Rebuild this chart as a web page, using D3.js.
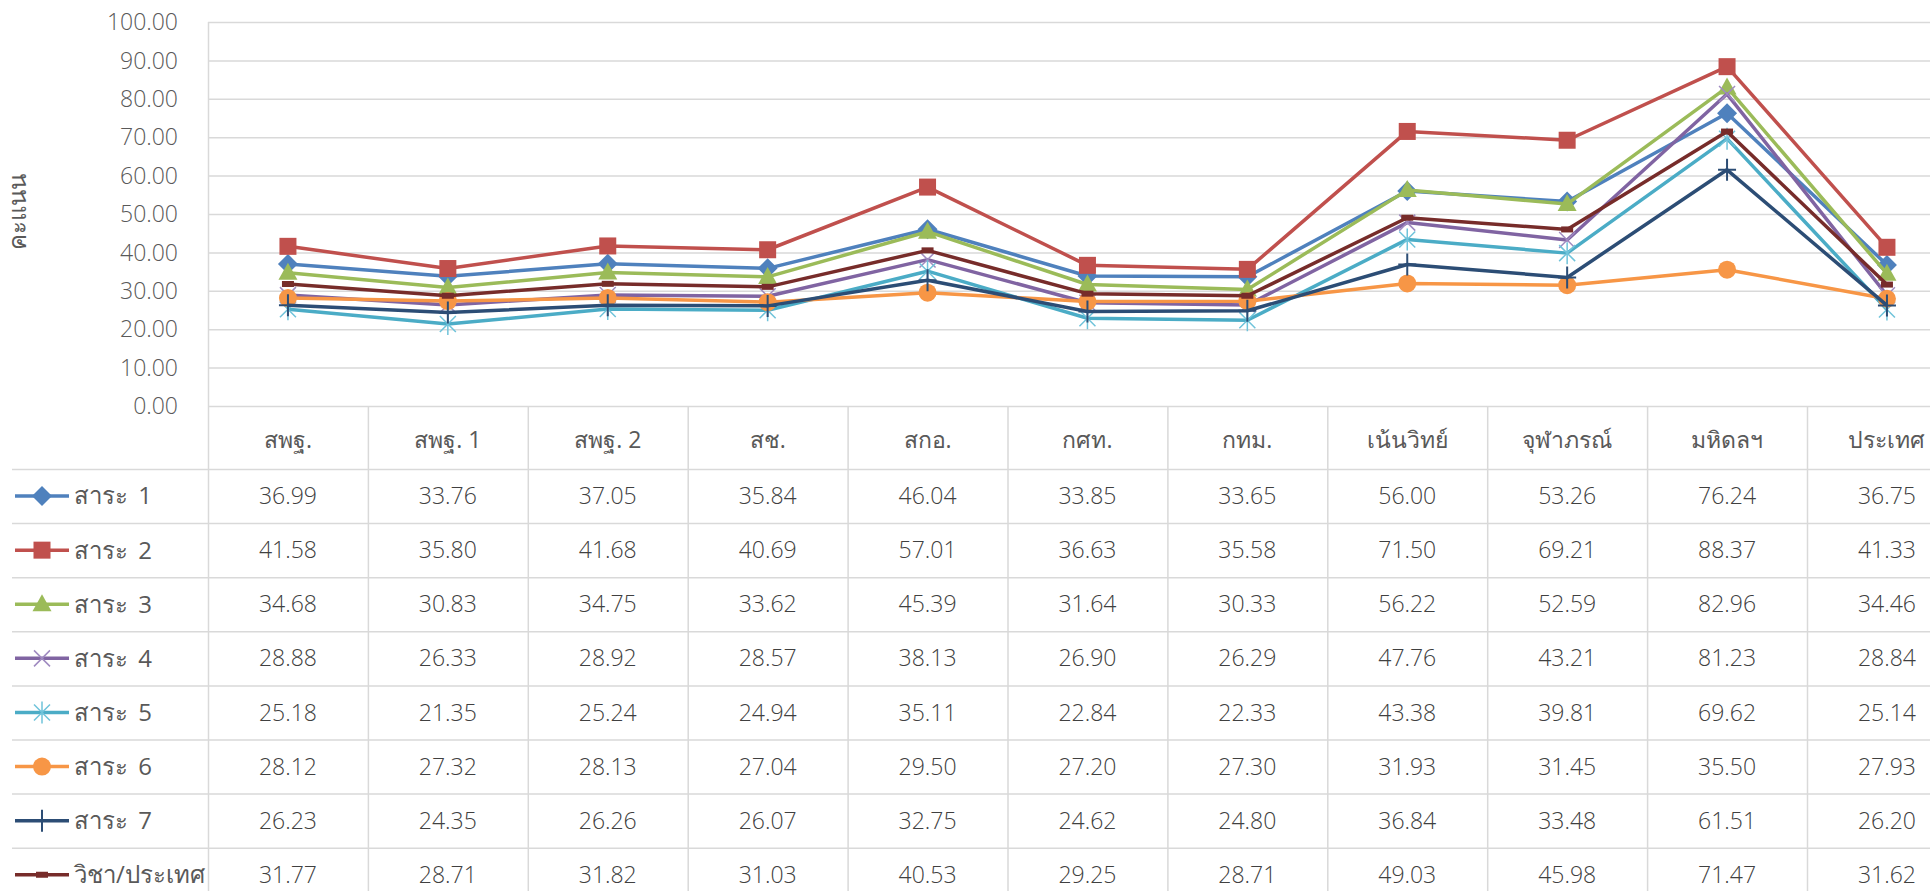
<!DOCTYPE html>
<html>
<head>
<meta charset="utf-8">
<script src="https://cdn.jsdelivr.net/npm/d3@7/dist/d3.min.js"></script>
<style>
  body { margin: 0; background: #fff; }
  svg { display: block; font-family: "Open Sans", "Noto Sans", sans-serif; }
  .num { font-weight: 300; }
</style>
</head>
<body>
<svg id="chart" width="1930" height="891"></svg>
<script>
// categories across the table / x axis
var categories = ["สพฐ.", "สพฐ. 1", "สพฐ. 2", "สช.", "สกอ.", "กศท.", "กทม.", "เน้นวิทย์", "จุฬาภรณ์", "มหิดลฯ", "ประเทศ"]

var seriesNames = ["สาระ 1", "สาระ 2", "สาระ 3", "สาระ 4", "สาระ 5", "สาระ 6", "สาระ 7", "วิชา/ประเทศ"]

var sara1 = [36.99, 33.76, 37.05, 35.84, 46.04, 33.85, 33.65, 56.00, 53.26, 76.24, 36.75]
var sara2 = [41.58, 35.80, 41.68, 40.69, 57.01, 36.63, 35.58, 71.50, 69.21, 88.37, 41.33]
var sara3 = [34.68, 30.83, 34.75, 33.62, 45.39, 31.64, 30.33, 56.22, 52.59, 82.96, 34.46]
var sara4 = [28.88, 26.33, 28.92, 28.57, 38.13, 26.90, 26.29, 47.76, 43.21, 81.23, 28.84]
var sara5 = [25.18, 21.35, 25.24, 24.94, 35.11, 22.84, 22.33, 43.38, 39.81, 69.62, 25.14]
var sara6 = [28.12, 27.32, 28.13, 27.04, 29.50, 27.20, 27.30, 31.93, 31.45, 35.50, 27.93]
var sara7 = [26.23, 24.35, 26.26, 26.07, 32.75, 24.62, 24.80, 36.84, 33.48, 61.51, 26.20]
var subjectAll = [31.77, 28.71, 31.82, 31.03, 40.53, 29.25, 28.71, 49.03, 45.98, 71.47, 31.62]

var yTicks = [0, 10, 20, 30, 40, 50, 60, 70, 80, 90, 100]

var colors = ["#4F81BD", "#C0504D", "#9BBB59", "#8064A2", "#4BACC6", "#F79646", "#2C4D75", "#772C2A"]
var markers = ["diamond", "square", "triangle", "x", "star", "circle", "plus", "dash"]

var series = [sara1, sara2, sara3, sara4, sara5, sara6, sara7, subjectAll].map(function(vals, i){
  return {name: seriesNames[i], values: vals, color: colors[i], marker: markers[i]}
})

var svg = d3.select("#chart")
var W = 1930, H = 891
var plotLeft = 208, plotTop = 22, plotBottom = 406
var colW = 159.9
var headerH = 63, rowH = 54.1
var gridColor = "#D9D9D9"

var x = d3.scaleBand().domain(categories).range([plotLeft, plotLeft + colW * categories.length])
var y = d3.scaleLinear().domain([0, 100]).range([plotBottom, plotTop])

// gridlines
svg.append("g").selectAll("line")
  .data(yTicks)
  .enter().append("line")
  .attr("x1", plotLeft).attr("x2", W)
  .attr("y1", d => y(d) + 0.5).attr("y2", d => y(d) + 0.5)
  .attr("stroke", gridColor).attr("stroke-width", 1.5)

// y tick labels
svg.append("g").selectAll("text")
  .data(yTicks)
  .enter().append("text")
  .attr("class", "num")
  .attr("x", 178)
  .attr("y", d => y(d))
  .attr("dy", "0.36em")
  .attr("text-anchor", "end")
  .attr("font-size", 23)
  .attr("fill", "#595959")
  .text(d => d3.format(".2f")(d))

// y axis title
svg.append("text")
  .attr("transform", "translate(18,212) rotate(-90)")
  .attr("text-anchor", "middle")
  .attr("dy", "0.35em")
  .attr("font-size", 24)
  .attr("fill", "#595959")
  .text("คะแนน")

// data table
var tableTop = plotBottom
var rowTop = function(i){ return tableTop + headerH + i * rowH }

var tbl = svg.append("g")
// horizontal rules
tbl.selectAll("line.h")
  .data(d3.range(series.length + 1))
  .enter().append("line")
  .attr("class", "h")
  .attr("x1", 12).attr("x2", W)
  .attr("y1", d => rowTop(d) + 0.5).attr("y2", d => rowTop(d) + 0.5)
  .attr("stroke", gridColor).attr("stroke-width", 1.5)
// vertical rules
var bounds = categories.map(c => x(c))
tbl.selectAll("line.v")
  .data(bounds)
  .enter().append("line")
  .attr("class", "v")
  .attr("x1", d => d + 0.5).attr("x2", d => d + 0.5)
  .attr("y1", (d, i) => i == 0 ? plotTop : tableTop).attr("y2", H)
  .attr("stroke", gridColor).attr("stroke-width", 1.5)

// header labels
tbl.selectAll("text.cat")
  .data(categories)
  .enter().append("text")
  .attr("class", "cat")
  .attr("x", d => x(d) + x.bandwidth() / 2)
  .attr("y", tableTop + headerH / 2 + 2)
  .attr("dy", "0.35em")
  .attr("text-anchor", "middle")
  .attr("font-size", 23)
  .attr("fill", "#595959")
  .text(d => d)

// rows: legend key + values
series.forEach(function(s, i){
  var cy = rowTop(i) + rowH / 2
  var row = tbl.append("g")
  row.append("line")
    .attr("x1", 15).attr("x2", 69)
    .attr("y1", cy).attr("y2", cy)
    .attr("stroke", s.color).attr("stroke-width", 3.5)
  drawMarker(row, s, 42, cy)
  row.append("text")
    .attr("x", 74).attr("y", cy)
    .attr("dy", "0.35em")
    .attr("font-size", 24)
    .attr("word-spacing", 4)
    .attr("fill", "#595959")
    .text(s.name)
  row.selectAll("text.val")
    .data(s.values)
    .enter().append("text")
    .attr("class", "val num")
    .attr("x", (d, j) => x(categories[j]) + x.bandwidth() / 2)
    .attr("y", cy)
    .attr("dy", "0.35em")
    .attr("text-anchor", "middle")
    .attr("font-size", 23)
    .attr("fill", "#404040")
    .text(d => d3.format(".2f")(d))
})

// lines and markers
var line = d3.line()
  .x((d, j) => x(categories[j]) + x.bandwidth() / 2)
  .y(d => y(d))

var lines = svg.append("g")
series.forEach(function(s){
  var g = lines.append("g")
  g.append("path")
    .attr("d", line(s.values))
    .attr("fill", "none")
    .attr("stroke", s.color)
    .attr("stroke-width", 3.5)
    .attr("stroke-linejoin", "round")
  s.values.forEach(function(v, j){
    drawMarker(g, s, x(categories[j]) + x.bandwidth() / 2, y(v))
  })
})

function drawMarker(g, s, cx, cy){
  var m = g.append("g").attr("transform", "translate(" + cx + "," + cy + ")")
  var c = s.color
  if (s.marker == "diamond") {
    m.append("path").attr("d", "M0,-10L10,0L0,10L-10,0Z").attr("fill", c)
  } else if (s.marker == "square") {
    m.append("rect").attr("x", -8.5).attr("y", -8.5).attr("width", 17).attr("height", 17).attr("fill", c)
  } else if (s.marker == "triangle") {
    m.append("path").attr("d", "M0,-10L9.5,7L-9.5,7Z").attr("fill", c)
  } else if (s.marker == "x") {
    m.append("path").attr("d", "M-8,-8L8,8M-8,8L8,-8").attr("stroke", "#9F8AC0").attr("stroke-width", 1.5)
  } else if (s.marker == "star") {
    m.append("path").attr("d", "M-8,-8L8,8M-8,8L8,-8M0,-11L0,11").attr("stroke", "#6FC3DA").attr("stroke-width", 1.5)
  } else if (s.marker == "circle") {
    m.append("circle").attr("r", 9).attr("fill", c)
  } else if (s.marker == "plus") {
    m.append("path").attr("d", "M-9,0L9,0M0,-11L0,11").attr("stroke", c).attr("stroke-width", 2)
  } else if (s.marker == "dash") {
    m.append("rect").attr("x", -6).attr("y", -3).attr("width", 12).attr("height", 6).attr("fill", c)
  }
}
</script>
</body>
</html>
